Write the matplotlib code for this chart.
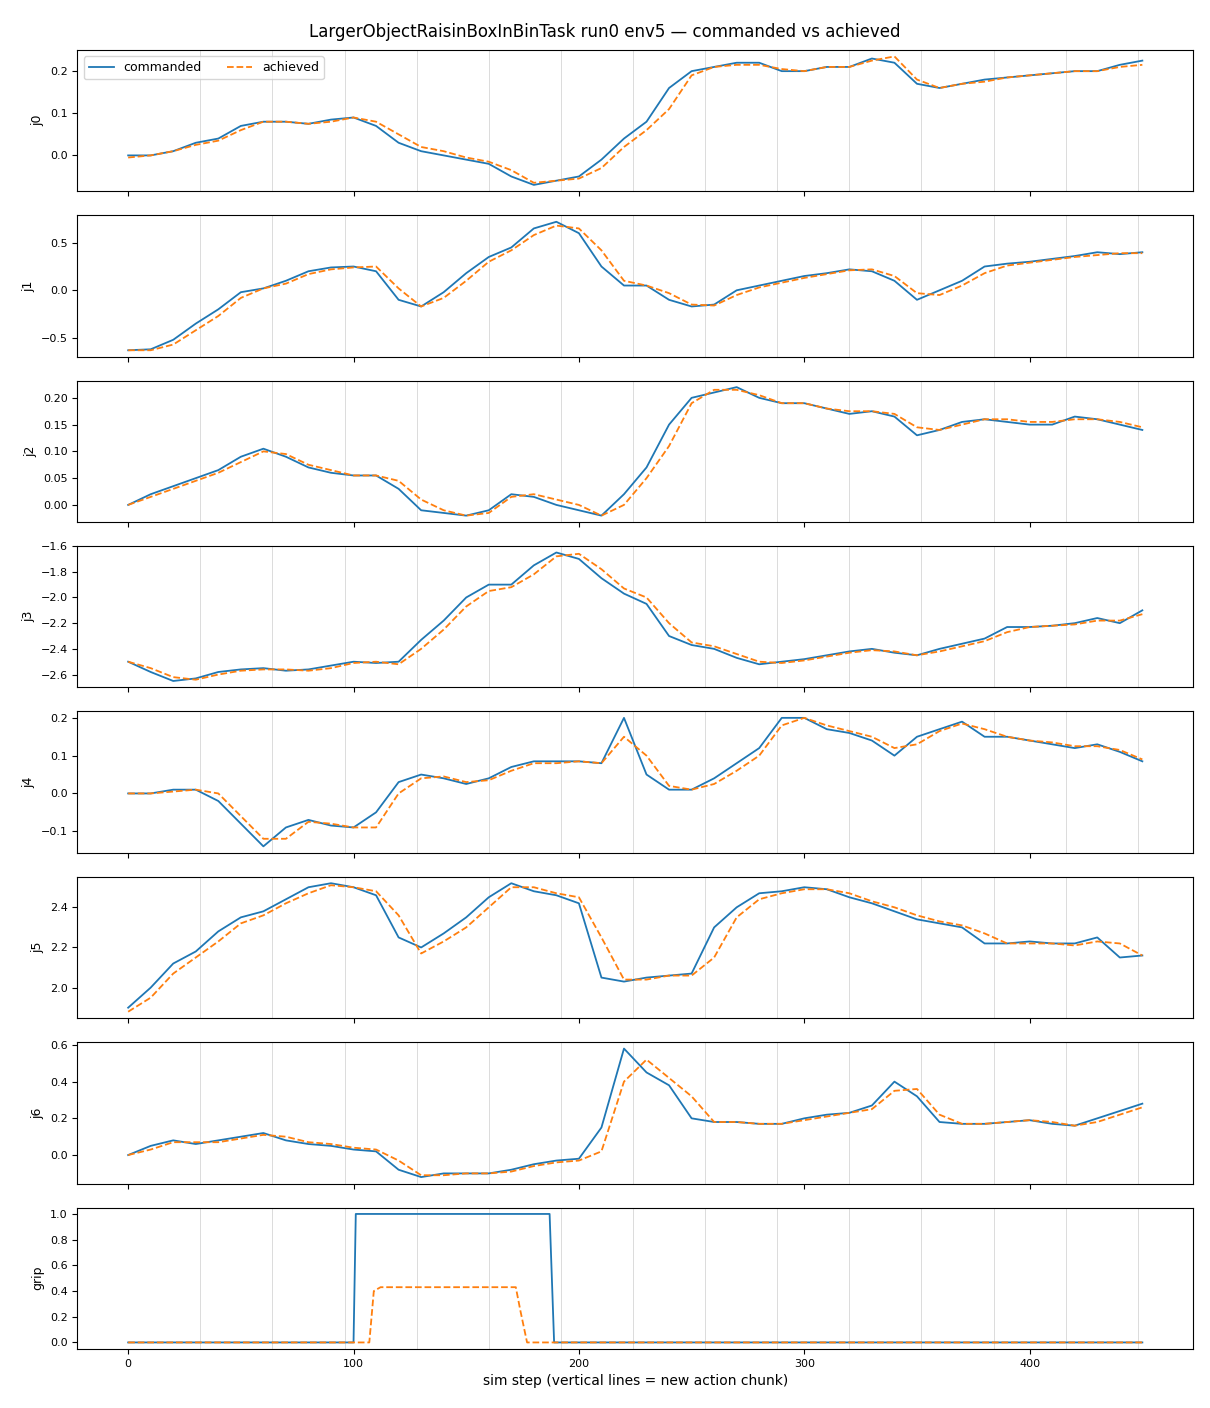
"""Commanded vs achieved joint positions for one rollout."""

import matplotlib

matplotlib.use("Agg")
import matplotlib.pyplot as plt
from matplotlib.ticker import MultipleLocator

# sample steps for the joint traces (every 10 steps)
steps = list(range(0, 451, 10))

j0_cmd = [0.0, 0.0, 0.01, 0.03, 0.04, 0.07, 0.08, 0.08, 0.075, 0.085, 0.09, 0.07, 0.03, 0.01, 0.0, -0.01,
          -0.02, -0.05, -0.07, -0.06, -0.05, -0.01, 0.04, 0.08, 0.16, 0.2, 0.21, 0.22, 0.22, 0.2, 0.2, 0.21,
          0.21, 0.23, 0.22, 0.17, 0.16, 0.17, 0.18, 0.185, 0.19, 0.195, 0.2, 0.2, 0.215, 0.225]
j0_ach = [-0.005, 0.0, 0.01, 0.025, 0.035, 0.06, 0.08, 0.08, 0.075, 0.08, 0.09, 0.08, 0.05, 0.02, 0.01, -0.005,
          -0.015, -0.035, -0.065, -0.06, -0.055, -0.03, 0.02, 0.06, 0.11, 0.19, 0.21, 0.215, 0.215, 0.205, 0.2, 0.21,
          0.21, 0.225, 0.235, 0.18, 0.16, 0.17, 0.175, 0.185, 0.19, 0.195, 0.2, 0.2, 0.21, 0.215]

j1_cmd = [-0.63, -0.62, -0.52, -0.35, -0.2, -0.02, 0.02, 0.1, 0.2, 0.24, 0.25, 0.2, -0.1, -0.17, -0.02, 0.18,
          0.35, 0.45, 0.65, 0.72, 0.6, 0.25, 0.05, 0.05, -0.1, -0.17, -0.15, 0.0, 0.05, 0.1, 0.15, 0.18,
          0.22, 0.2, 0.1, -0.1, 0.0, 0.1, 0.25, 0.28, 0.3, 0.33, 0.36, 0.4, 0.38, 0.4]
j1_ach = [-0.63, -0.63, -0.57, -0.42, -0.27, -0.08, 0.02, 0.07, 0.17, 0.22, 0.24, 0.25, 0.02, -0.17, -0.08, 0.1,
          0.3, 0.42, 0.58, 0.68, 0.65, 0.42, 0.1, 0.05, -0.03, -0.15, -0.16, -0.05, 0.03, 0.08, 0.13, 0.17,
          0.21, 0.22, 0.15, -0.03, -0.05, 0.05, 0.18, 0.26, 0.29, 0.32, 0.35, 0.37, 0.39, 0.39]

j2_cmd = [0.0, 0.02, 0.035, 0.05, 0.065, 0.09, 0.105, 0.09, 0.07, 0.06, 0.055, 0.055, 0.03, -0.01, -0.015, -0.02,
          -0.01, 0.02, 0.015, 0.0, -0.01, -0.02, 0.02, 0.07, 0.15, 0.2, 0.21, 0.22, 0.2, 0.19, 0.19, 0.18,
          0.17, 0.175, 0.165, 0.13, 0.14, 0.155, 0.16, 0.155, 0.15, 0.15, 0.165, 0.16, 0.15, 0.14]
j2_ach = [0.0, 0.015, 0.03, 0.045, 0.06, 0.08, 0.1, 0.095, 0.075, 0.065, 0.055, 0.055, 0.045, 0.01, -0.01, -0.02,
          -0.015, 0.015, 0.02, 0.01, 0.0, -0.02, 0.0, 0.05, 0.11, 0.19, 0.215, 0.215, 0.205, 0.19, 0.19, 0.18,
          0.175, 0.175, 0.17, 0.145, 0.14, 0.15, 0.16, 0.16, 0.155, 0.155, 0.16, 0.16, 0.155, 0.145]

j3_cmd = [-2.5, -2.58, -2.65, -2.63, -2.58, -2.56, -2.55, -2.57, -2.56, -2.53, -2.5, -2.51, -2.5, -2.33, -2.18, -2.0,
          -1.9, -1.9, -1.75, -1.65, -1.7, -1.85, -1.97, -2.05, -2.3, -2.37, -2.4, -2.47, -2.52, -2.5, -2.48, -2.45,
          -2.42, -2.4, -2.43, -2.45, -2.4, -2.36, -2.32, -2.23, -2.23, -2.22, -2.2, -2.16, -2.2, -2.1]
j3_ach = [-2.5, -2.55, -2.62, -2.64, -2.6, -2.57, -2.56, -2.56, -2.57, -2.55, -2.51, -2.5, -2.52, -2.4, -2.25, -2.07,
          -1.95, -1.92, -1.82, -1.68, -1.66, -1.78, -1.93, -2.0, -2.2, -2.35, -2.38, -2.44, -2.5, -2.51, -2.49, -2.46,
          -2.43, -2.41, -2.42, -2.45, -2.42, -2.38, -2.34, -2.27, -2.23, -2.22, -2.21, -2.18, -2.18, -2.13]

j4_cmd = [0.0, 0.0, 0.01, 0.01, -0.02, -0.08, -0.14, -0.09, -0.07, -0.085, -0.09, -0.05, 0.03, 0.05, 0.04, 0.025,
          0.04, 0.07, 0.085, 0.085, 0.085, 0.08, 0.2, 0.05, 0.01, 0.01, 0.04, 0.08, 0.12, 0.2, 0.2, 0.17,
          0.16, 0.14, 0.1, 0.15, 0.17, 0.19, 0.15, 0.15, 0.14, 0.13, 0.12, 0.13, 0.11, 0.085]
j4_ach = [0.0, 0.0, 0.005, 0.01, 0.0, -0.06, -0.12, -0.12, -0.075, -0.08, -0.09, -0.09, 0.0, 0.04, 0.045, 0.03,
          0.035, 0.06, 0.08, 0.08, 0.085, 0.08, 0.15, 0.1, 0.02, 0.01, 0.025, 0.06, 0.1, 0.18, 0.2, 0.18,
          0.165, 0.15, 0.12, 0.13, 0.165, 0.185, 0.17, 0.15, 0.14, 0.135, 0.125, 0.125, 0.115, 0.09]

j5_cmd = [1.9, 2.0, 2.12, 2.18, 2.28, 2.35, 2.38, 2.44, 2.5, 2.52, 2.5, 2.46, 2.25, 2.2, 2.27, 2.35,
          2.45, 2.52, 2.48, 2.46, 2.42, 2.05, 2.03, 2.05, 2.06, 2.07, 2.3, 2.4, 2.47, 2.48, 2.5, 2.49,
          2.45, 2.42, 2.38, 2.34, 2.32, 2.3, 2.22, 2.22, 2.23, 2.22, 2.22, 2.25, 2.15, 2.16]
j5_ach = [1.88, 1.95, 2.07, 2.15, 2.23, 2.32, 2.36, 2.42, 2.47, 2.51, 2.5, 2.48, 2.36, 2.17, 2.23, 2.3,
          2.4, 2.5, 2.5, 2.47, 2.45, 2.25, 2.04, 2.04, 2.06, 2.06, 2.15, 2.35, 2.44, 2.47, 2.49, 2.49,
          2.47, 2.43, 2.4, 2.36, 2.33, 2.31, 2.27, 2.22, 2.22, 2.22, 2.21, 2.23, 2.22, 2.16]

j6_cmd = [0.0, 0.05, 0.08, 0.06, 0.08, 0.1, 0.12, 0.08, 0.06, 0.05, 0.03, 0.02, -0.08, -0.12, -0.1, -0.1,
          -0.1, -0.08, -0.05, -0.03, -0.02, 0.15, 0.58, 0.45, 0.38, 0.2, 0.18, 0.18, 0.17, 0.17, 0.2, 0.22,
          0.23, 0.27, 0.4, 0.32, 0.18, 0.17, 0.17, 0.18, 0.19, 0.17, 0.16, 0.2, 0.24, 0.28]
j6_ach = [0.0, 0.03, 0.07, 0.07, 0.07, 0.09, 0.11, 0.1, 0.07, 0.06, 0.04, 0.03, -0.03, -0.11, -0.11, -0.1,
          -0.1, -0.09, -0.06, -0.04, -0.03, 0.02, 0.4, 0.52, 0.42, 0.32, 0.18, 0.18, 0.17, 0.17, 0.19, 0.21,
          0.23, 0.25, 0.35, 0.36, 0.22, 0.17, 0.17, 0.18, 0.19, 0.18, 0.16, 0.18, 0.22, 0.26]

# gripper traces are step-like: corner points
grip_cmd_x = [0, 100, 101, 187, 189, 450]
grip_cmd_y = [0.0, 0.0, 1.0, 1.0, 0.0, 0.0]
grip_ach_x = [0, 107, 109, 112, 172, 174, 177, 450]
grip_ach_y = [0.0, 0.0, 0.4, 0.43, 0.43, 0.25, 0.0, 0.0]

chunk_starts = list(range(32, 451, 32))

joints = [
    ("j0", j0_cmd, j0_ach, 0.1),
    ("j1", j1_cmd, j1_ach, 0.5),
    ("j2", j2_cmd, j2_ach, 0.05),
    ("j3", j3_cmd, j3_ach, 0.2),
    ("j4", j4_cmd, j4_ach, 0.1),
    ("j5", j5_cmd, j5_ach, 0.2),
    ("j6", j6_cmd, j6_ach, 0.2),
]

fig, axes = plt.subplots(8, 1, figsize=(12.1, 14.08), sharex=True)
for ax, (name, cmd, ach, tick_step) in zip(axes, joints):
    ax.plot(steps, cmd, color="#1f77b4", lw=1.3, label="commanded")
    ax.plot(steps, ach, color="#ff7f0e", lw=1.3, ls="--", label="achieved")
    ax.set_ylabel(name, fontsize=9)
    ax.yaxis.set_major_locator(MultipleLocator(tick_step))

grip_ax = axes[-1]
grip_ax.plot(grip_cmd_x, grip_cmd_y, color="#1f77b4", lw=1.3, label="commanded")
grip_ax.plot(grip_ach_x, grip_ach_y, color="#ff7f0e", lw=1.3, ls="--", label="achieved")
grip_ax.set_ylabel("grip", fontsize=9)
grip_ax.set_xlabel("sim step (vertical lines = new action chunk)", fontsize=10)

for ax in axes:
    for x in chunk_starts:
        ax.axvline(x, color="#cccccc", lw=0.7, alpha=0.7, zorder=0)
    ax.tick_params(labelsize=8)

axes[0].legend(loc="upper left", ncol=2, fontsize=9)
fig.suptitle("LargerObjectRaisinBoxInBinTask run0 env5 — commanded vs achieved", fontsize=12, y=0.984)
fig.subplots_adjust(left=0.064, right=0.986, top=0.9645, bottom=0.042, hspace=0.17)
fig.savefig("out.png", dpi=100)
plt.close(fig)
